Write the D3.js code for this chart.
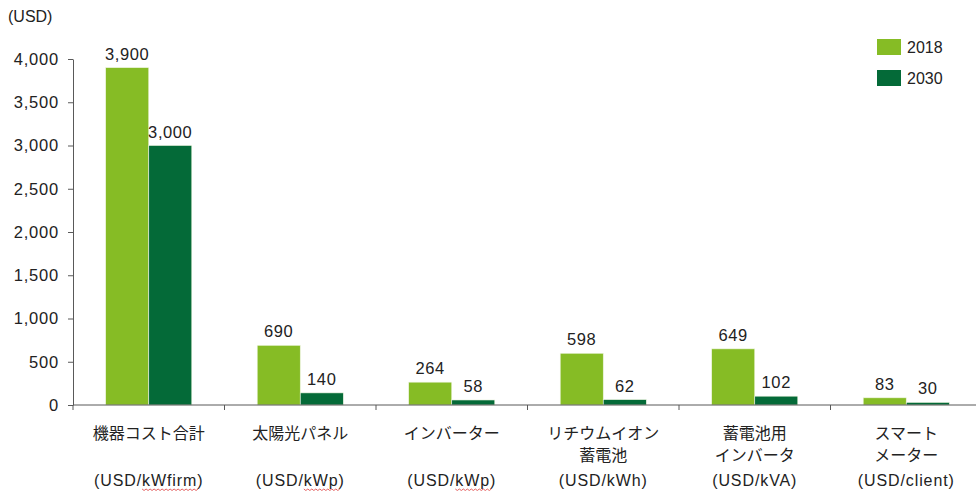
<!DOCTYPE html>
<html>
<head>
<meta charset="utf-8">
<script src="https://cdn.jsdelivr.net/npm/d3@7"></script>
<style>
  html, body { margin: 0; padding: 0; background: #fff; }
  svg { display: block; }
  text { font-family: "Liberation Sans", Arial, sans-serif; fill: #222; }
  .jp { font-family: "Noto Sans CJK JP", "Liberation Sans", sans-serif; }
</style>
</head>
<body>
<svg id="chart" width="976" height="491"></svg>
<script>
// Equipment cost outlook, 2018 vs 2030
const categories = [
  ["機器コスト合計"],
  ["太陽光パネル"],
  ["インバーター"],
  ["リチウムイオン", "蓄電池"],
  ["蓄電池用", "インバータ"],
  ["スマート", "メーター"]
];
const units = [
  ["(USD/", "kWfirm", ")"],
  ["(USD/", "kWp", ")"],
  ["(USD/", "kWp", ")"],
  ["(USD/kWh)", "", ""],
  ["(USD/kVA)", "", ""],
  ["(USD/client)", "", ""]
];
const seriesNames = ["2018", "2030"];
const values2018 = [3900, 690, 264, 598, 649, 83];
const values2030 = [3000, 140, 58, 62, 102, 30];
const yTicks = [0, 500, 1000, 1500, 2000, 2500, 3000, 3500, 4000];
const colors = ["#86bc25", "#046a38"];

const svg = d3.select("#chart");
const x0 = 73, plotRight = 982, y0 = 405, yTop = 59;

const x = d3.scaleBand().domain(d3.range(categories.length)).range([x0, plotRight]).paddingInner(0).paddingOuter(0);
const xs = d3.scaleBand().domain(seriesNames).range([0, x.bandwidth()]).paddingInner(0).paddingOuter(0.76);
const y = d3.scaleLinear().domain([0, 4000]).range([y0, yTop]);

// Y axis
const yAxis = svg.append("g").attr("transform", `translate(${x0},0)`)
  .call(d3.axisLeft(y).tickValues(yTicks).tickFormat(d3.format(",")).tickSizeOuter(0).tickSizeInner(5).tickPadding(9));
yAxis.select(".domain").attr("stroke", "#595959");
yAxis.selectAll(".tick line").attr("stroke", "#595959");
yAxis.selectAll(".tick text")
  .style("font-size", "16.5px").style("letter-spacing", "0.8px")
  .attr("fill", "#222").style("font-family", "'Liberation Sans', Arial, sans-serif");

svg.append("text").attr("x", 8).attr("y", 22).style("font-size", "16px").text("(USD)");

// Bars
const rows = categories.map((c, i) => ({ i, vals: [values2018[i], values2030[i]] }));
const groups = svg.append("g").selectAll("g").data(rows).join("g")
  .attr("transform", d => `translate(${x(d.i)},0)`);

groups.selectAll("rect").data(d => d.vals.map((v, k) => ({ v, k }))).join("rect")
  .attr("x", d => xs(seriesNames[d.k]))
  .attr("width", xs.bandwidth())
  .attr("y", d => y(d.v))
  .attr("height", d => y0 - y(d.v))
  .attr("fill", d => colors[d.k])
  .attr("stroke", "#eef5e0")
  .attr("stroke-width", 0.6);

groups.selectAll("text.val").data(d => d.vals.map((v, k) => ({ v, k }))).join("text")
  .attr("class", "val")
  .attr("x", d => xs(seriesNames[d.k]) + xs.bandwidth() / 2)
  .attr("y", d => y(d.v) - 8)
  .attr("text-anchor", "middle")
  .style("font-size", "16.5px").style("letter-spacing", "0.6px")
  .text(d => d3.format(",")(d.v));

// X axis
const xAxis = svg.append("g").attr("transform", `translate(0,${y0})`);
xAxis.append("line").attr("x1", x0).attr("x2", plotRight).attr("stroke", "#595959");
xAxis.selectAll("line.tk").data(d3.range(categories.length)).join("line")
  .attr("class", "tk")
  .attr("x1", d => x(d)).attr("x2", d => x(d))
  .attr("y1", 0).attr("y2", 5).attr("stroke", "#595959");

// Category labels
categories.forEach((lines, i) => {
  const cx = x(i) + x.bandwidth() / 2;
  lines.forEach((ln, j) => {
    svg.append("text").attr("class", "jp")
      .attr("x", cx).attr("y", 439 + j * 22)
      .attr("text-anchor", "middle")
      .style("font-size", "16px")
      .text(ln);
  });
  const u = units[i];
  const t = svg.append("text")
    .attr("x", cx).attr("y", 486)
    .attr("text-anchor", "middle")
    .style("font-size", "16px").style("letter-spacing", "0.9px");
  t.append("tspan").text(u[0]);
  t.append("tspan").text(u[1]);
  t.append("tspan").text(u[2]);
  // spell-check style wavy underline beneath unit word
  if (u[1]) {
    const el = t.node();
    const start = el.getStartPositionOfChar(u[0].length).x;
    const end = el.getEndPositionOfChar(u[0].length + u[1].length - 1).x;
    const wy = 489;
    let dStr = `M${start},${wy}`;
    for (let px = start, k = 0; px < end; px += 2, k++) {
      dStr += ` L${px + 2},${wy + (k % 2 === 0 ? 1.5 : 0)}`;
    }
    svg.append("path").attr("d", dStr).attr("fill", "none").attr("stroke", "#e05050").attr("stroke-width", 0.9);
  }
});

// Legend
const legend = svg.append("g").attr("transform", "translate(877,39)");
seriesNames.forEach((s, k) => {
  legend.append("rect").attr("x", 0).attr("y", k * 31).attr("width", 24).attr("height", 16).attr("fill", colors[k]);
  legend.append("text").attr("x", 30).attr("y", k * 31 + 14).style("font-size", "16px").text(s);
});
</script>
</body>
</html>
